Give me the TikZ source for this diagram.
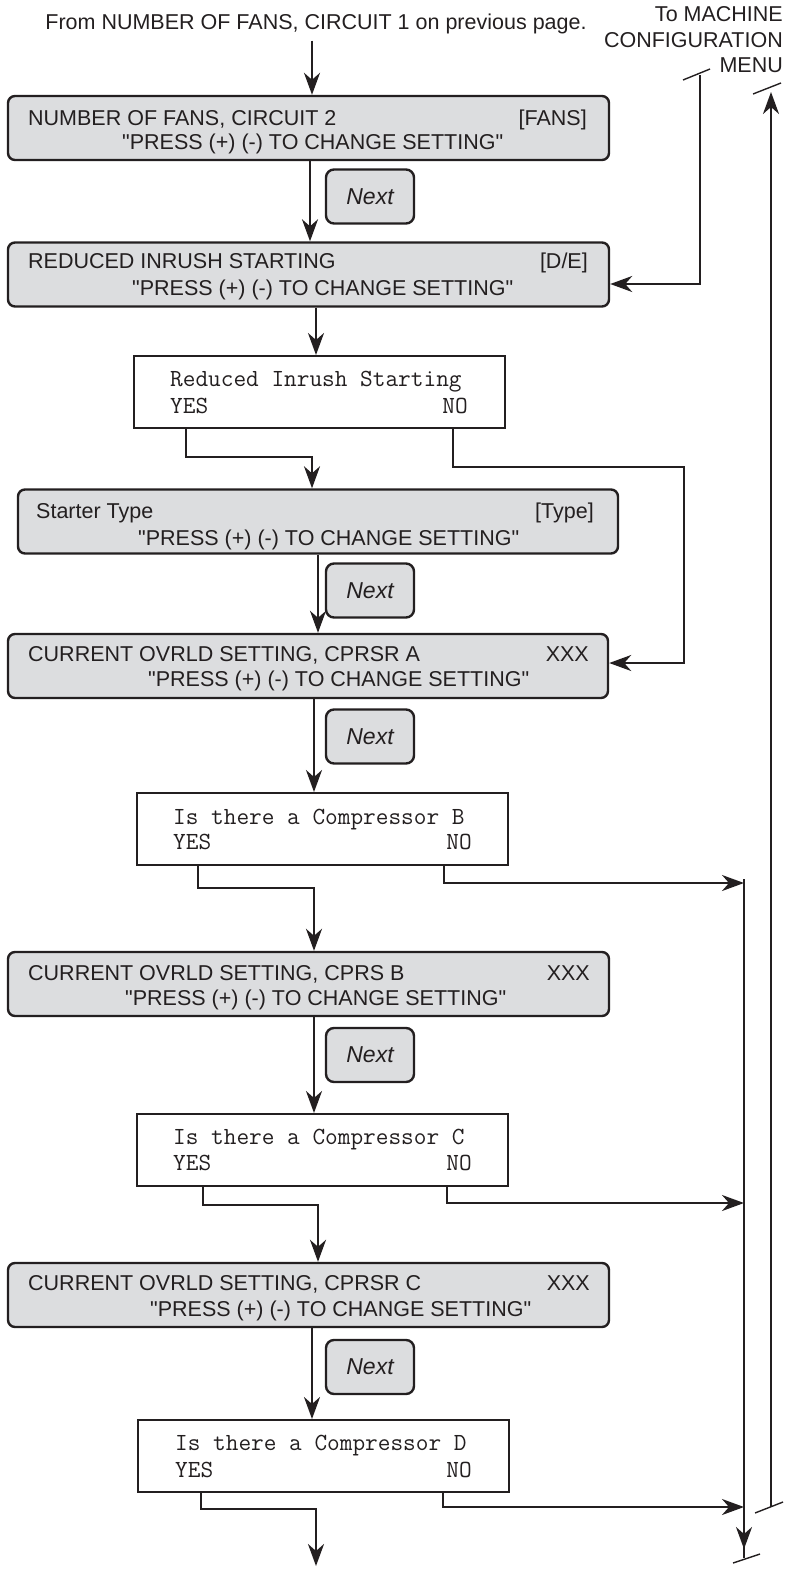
\documentclass[tikz,border=0pt]{standalone}
\usepackage{fontspec}
\setmainfont{Liberation Sans}[Ligatures=TeXOff]
\usetikzlibrary{arrows.meta}
\definecolor{panel}{RGB}{220,221,223}
\definecolor{ink}{RGB}{35,31,32}
\begin{document}
\begin{tikzpicture}[x=1pt,y=-1pt,
    every node/.style={inner sep=0pt, text=ink},
    txt/.style={font=\fontsize{21.5}{26}\selectfont},
    mono/.style={font=\ttfamily\fontsize{24.6}{26}\selectfont},
    panelbox/.style={draw=ink, line width=2.4pt, fill=panel, rounded corners=7pt, minimum width=601pt, minimum height=64pt},
    querybox/.style={draw=ink, line width=2pt, fill=white, minimum width=371pt, minimum height=72pt},
    nextbox/.style={draw=ink, line width=2.4pt, fill=panel, rounded corners=8pt, minimum width=88pt, minimum height=54pt, font=\itshape\fontsize{23}{26}\selectfont},
    arr/.style={draw=ink, line width=2.2pt, -{Stealth[length=22pt,width=16pt,inset=7pt]}},
    wire/.style={draw=ink, line width=2.2pt},
    brk/.style={draw=ink, line width=1.4pt}]
    \useasboundingbox (0,0) rectangle (796,1569);

    %top labels
    \node[txt, anchor=base] (from) at (316,29) {From NUMBER OF FANS, CIRCUIT 1 on previous page.};
    \node[txt, anchor=base east] (menu1) at (783,21) {To MACHINE};
    \node[txt, anchor=base east] (menu2) at (783,47) {CONFIGURATION};
    \node[txt, anchor=base east] (menu3) at (783,72) {MENU};

    %setting panels
    \node[panelbox] (b1) at (308.5,128) {};
    \node[panelbox] (b2) at (308.5,274.5) {};
    \node[panelbox, minimum width=600pt] (b4) at (318,521.5) {};
    \node[panelbox, minimum width=600pt] (b5) at (308,666) {};
    \node[panelbox] (b7) at (308.5,984) {};
    \node[panelbox] (b9) at (308.5,1295) {};

    %panel texts
    \node[txt, anchor=base west] (b1a) at (28,125) {NUMBER OF FANS, CIRCUIT 2};
    \node[txt, anchor=base east] (b1b) at (587,125) {[FANS]};
    \node[txt, anchor=base west] (b1c) at (122,149) {"PRESS (+) (-) TO CHANGE SETTING"};
    \node[txt, anchor=base west] (b2a) at (28,268) {REDUCED INRUSH STARTING};
    \node[txt, anchor=base east] (b2b) at (588,268) {[D/E]};
    \node[txt, anchor=base west] (b2c) at (132,295) {"PRESS (+) (-) TO CHANGE SETTING"};
    \node[txt, anchor=base west] (b4a) at (36,518) {Starter Type};
    \node[txt, anchor=base east] (b4b) at (594,518) {[Type]};
    \node[txt, anchor=base west] (b4c) at (138,545) {"PRESS (+) (-) TO CHANGE SETTING"};
    \node[txt, anchor=base west] (b5a) at (28,661) {CURRENT OVRLD SETTING, CPRSR A};
    \node[txt, anchor=base east] (b5b) at (589,661) {XXX};
    \node[txt, anchor=base west] (b5c) at (148,686) {"PRESS (+) (-) TO CHANGE SETTING"};
    \node[txt, anchor=base west] (b7a) at (28,980) {CURRENT OVRLD SETTING, CPRS B};
    \node[txt, anchor=base east] (b7b) at (590,980) {XXX};
    \node[txt, anchor=base west] (b7c) at (125,1005) {"PRESS (+) (-) TO CHANGE SETTING"};
    \node[txt, anchor=base west] (b9a) at (28,1290) {CURRENT OVRLD SETTING, CPRSR C};
    \node[txt, anchor=base east] (b9b) at (590,1290) {XXX};
    \node[txt, anchor=base west] (b9c) at (150,1316) {"PRESS (+) (-) TO CHANGE SETTING"};

    %question boxes
    \node[querybox] (b3) at (319,392) {};
    \node[querybox] (b6) at (322,829) {};
    \node[querybox] (b8) at (322,1150) {};
    \node[querybox] (b10) at (323,1456) {};
    \node[mono, anchor=base west] (b3a) at (170,386) {Reduced Inrush Starting};
    \node[mono, anchor=base west] (b3y) at (170,413) {YES};
    \node[mono, anchor=base east] (b3n) at (468,413) {NO};
    \node[mono, anchor=base west] (b6a) at (173,824) {Is there a Compressor B};
    \node[mono, anchor=base west] (b6y) at (173,849) {YES};
    \node[mono, anchor=base east] (b6n) at (472,849) {NO};
    \node[mono, anchor=base west] (b8a) at (173,1144) {Is there a Compressor C};
    \node[mono, anchor=base west] (b8y) at (173,1170) {YES};
    \node[mono, anchor=base east] (b8n) at (472,1170) {NO};
    \node[mono, anchor=base west] (b10a) at (175,1450) {Is there a Compressor D};
    \node[mono, anchor=base west] (b10y) at (175,1477) {YES};
    \node[mono, anchor=base east] (b10n) at (472,1477) {NO};

    %next keys
    \node[nextbox] (n1) at (370,196.5) {Next};
    \node[nextbox] (n2) at (370,590.5) {Next};
    \node[nextbox] (n3) at (370,736.5) {Next};
    \node[nextbox] (n4) at (370,1055) {Next};
    \node[nextbox] (n5) at (370,1367) {Next};

    %main flow
    \draw[arr] (from.south -| 312,0) ++(0,7) -- (b1.north -| 312,0);
    \draw[arr] (b1.south -| 310,0) -- (b2.north -| 310,0);
    \draw[arr] (b2.south -| 316,0) -- (b3.north -| 316,0);
    \draw[arr] (b3.south -| 186,0) |- (312,457) -- (b4.north -| 312,0);
    \draw[arr] (b3.south -| 453,0) |- (684,467) |- (b5.east |- 0,663);
    \draw[arr] (b4.south -| 318,0) -- (b5.north -| 318,0);
    \draw[arr] (b5.south -| 314,0) -- (b6.north -| 314,0);
    \draw[arr] (b6.south -| 198,0) |- (314,888) -- (b7.north -| 314,0);
    \draw[arr] (b7.south -| 314,0) -- (b8.north -| 314,0);
    \draw[arr] (b8.south -| 203,0) |- (318,1205) -- (b9.north -| 318,0);
    \draw[arr] (b9.south -| 312,0) -- (b10.north -| 312,0);
    \coordinate (exit) at (316,1566);
    \draw[arr] (b10.south -| 201,0) |- (316,1509) -- (exit);

    %return lines
    \coordinate (ltop) at (700,75);
    \draw[arr] (ltop) |- (b2.east |- 0,284);
    \draw[brk] (683,80) -- (710,69);

    \coordinate (ubot) at (771,1507);
    \coordinate (utop) at (771,92);
    \draw[arr] (ubot) -- (utop);
    \draw[brk] (753,94) -- (781,83);
    \draw[brk] (755,1513) -- (783,1502);

    \coordinate (dtop) at (744,879);
    \coordinate (dbot) at (744,1558);
    \draw[arr] (dtop) -- (744,1549);
    \draw[wire] (744,1540) -- (dbot);
    \draw[brk] (733,1563) -- (760,1554);

    %no branches
    \draw[arr] (b6.south -| 444,0) |- (dtop |- 0,883);
    \draw[arr] (b8.south -| 447,0) |- (dtop |- 0,1203);
    \draw[arr] (b10.south -| 443,0) |- (dtop |- 0,1507);
\end{tikzpicture}
\end{document}
